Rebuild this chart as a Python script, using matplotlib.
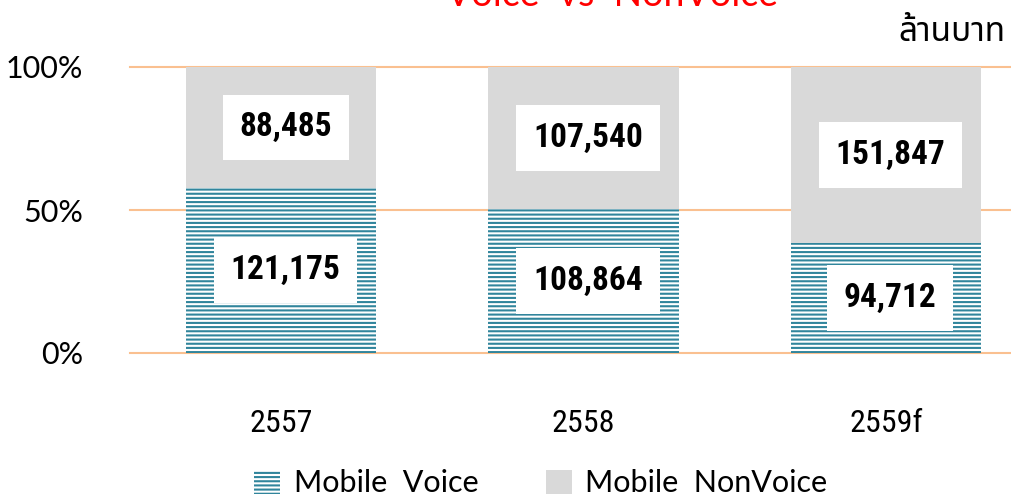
import matplotlib
matplotlib.use("Agg")
import matplotlib.pyplot as plt
from matplotlib.patches import Patch

# data (million baht)
years = ["2557", "2558", "2559f"]
voice = [121175, 108864, 94712]
nonvoice = [88485, 107540, 151847]
tick_vals = [0, 50, 100]
tick_labels = ["0%", "50%", "100%"]

TEAL = "#31859C"
GREY = "#D9D9D9"
GRID = "#FAC090"

plt.rcParams["hatch.linewidth"] = 1.5

thin = ["Lato", "DejaVu Sans"]
narrow = ["Liberation Sans Narrow", "Roboto Condensed", "Open Sans Condensed",
          "Roboto", "DejaVu Sans"]
thai = ["Noto Sans Thai", "Noto Sans Thai Looped", "Loma", "Garuda", "DejaVu Sans"]

fig = plt.figure(figsize=(10.11, 4.97), dpi=100)
ax = fig.add_axes([130 / 1011, 144 / 497, 907 / 1011, 286 / 497])

totals = [v + n for v, n in zip(voice, nonvoice)]
voice_pct = [v / t * 100 for v, t in zip(voice, totals)]
nonvoice_pct = [n / t * 100 for n, t in zip(nonvoice, totals)]
x = list(range(len(years)))

for yv in tick_vals:
    ax.axhline(yv, color=GRID, lw=1.5, zorder=0, clip_on=False)

ax.bar(x, voice_pct, width=0.63, color="white", edgecolor=TEAL,
       linewidth=0, hatch="----", zorder=2)
ax.bar(x, nonvoice_pct, width=0.63, bottom=voice_pct, color=GREY,
       linewidth=0, zorder=2)

# white value boxes in the middle of each segment
box = dict(boxstyle="square,pad=0.5", fc="white", ec="none")
for i in x:
    ax.text(i + 0.015, voice_pct[i] / 2, f"{voice[i]:,}", ha="center", va="center",
            fontsize=24, fontweight="bold", family=narrow, zorder=4, bbox=box)
    ax.text(i + 0.015, voice_pct[i] + nonvoice_pct[i] / 2, f"{nonvoice[i]:,}",
            ha="center", va="center", fontsize=24, fontweight="bold",
            family=narrow, zorder=4, bbox=box)

ax.set_xlim(-0.5, 2.5)
ax.set_ylim(0, 100)
ax.set_yticks(tick_vals)
ax.set_yticklabels(tick_labels, family=thin, fontsize=22)
ax.set_xticks(x)
ax.set_xticklabels(years, family=narrow, fontsize=23)
ax.tick_params(length=0)
ax.tick_params(axis="y", pad=34)
ax.tick_params(axis="x", pad=40)
for s in ax.spines.values():
    s.set_visible(False)

fig.text(0.605, 1 - 6 / 497, "Voice  vs  NonVoice", color="red", ha="center",
         va="baseline", fontsize=27, family=thin)
fig.text(1005 / 1011, 1 - 41 / 497, "ล้านบาท", ha="right", va="baseline",
         fontsize=24, family=thai)

handles = [Patch(facecolor="white", edgecolor=TEAL, linewidth=0, hatch="----"),
           Patch(facecolor=GREY, linewidth=0)]
fig.legend(handles, ["Mobile  Voice", "Mobile  NonVoice"], loc="lower center",
           bbox_to_anchor=(0.535, -0.056), ncol=2, frameon=False,
           prop=dict(family=thin, size=22),
           handlelength=0.85, handleheight=0.85, handletextpad=0.45,
           columnspacing=2.2)

fig.savefig("out.png", dpi=100)
